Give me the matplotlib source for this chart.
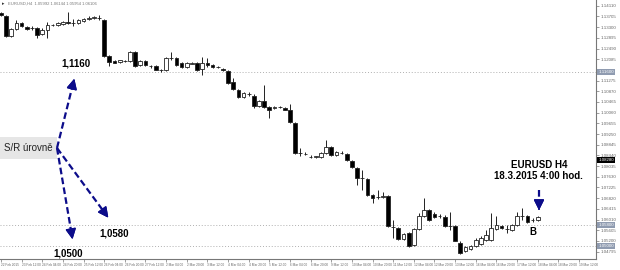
import matplotlib
matplotlib.use("Agg")
import matplotlib.pyplot as plt
from matplotlib.patches import Rectangle
from matplotlib.lines import Line2D

plt.rcParams['font.family'] = ['Liberation Sans', 'DejaVu Sans']

# EURUSD H4 svicky (odhad z obrazku)
opens = [1.13837, 1.13724, 1.12966, 1.13231, 1.13458, 1.13307, 1.13269, 1.13269, 1.13041, 1.13193,
         1.13383, 1.13383, 1.13420, 1.13496, 1.13458, 1.13458, 1.13534, 1.13610, 1.13629, 1.13648,
         1.13572, 1.12208, 1.12018, 1.11980, 1.12018, 1.12018, 1.12359, 1.11867, 1.12018, 1.11829,
         1.11829, 1.11677, 1.11677, 1.12132, 1.12132, 1.11942, 1.11791, 1.11923, 1.11942, 1.11715,
         1.11942, 1.11867, 1.11791, 1.11715, 1.11639, 1.11222, 1.10919, 1.10654, 1.10767, 1.10692,
         1.10313, 1.10502, 1.10275, 1.10237, 1.10275, 1.10237, 1.10161, 1.09668, 1.08531, 1.08494,
         1.08380, 1.08380, 1.08380, 1.08531, 1.08759, 1.08456, 1.08531, 1.08494, 1.08228, 1.07963,
         1.07584, 1.07546, 1.06940, 1.06864, 1.06845, 1.06902, 1.05727, 1.05689, 1.05272, 1.05499,
         1.05045, 1.05651, 1.06144, 1.06371, 1.06219, 1.06144, 1.06106, 1.05765, 1.05765, 1.05120,
         1.04817, 1.04893, 1.05007, 1.05082, 1.05234, 1.05234, 1.05651, 1.05765, 1.05651, 1.05613,
         1.05802, 1.06144, 1.06144, 1.05992, 1.05992]
highs = [1.13875, 1.13762, 1.13269, 1.13572, 1.13496, 1.13345, 1.13345, 1.13307, 1.13269, 1.13496,
         1.13420, 1.13496, 1.13534, 1.13875, 1.13610, 1.13610, 1.13648, 1.13724, 1.13724, 1.13762,
         1.13610, 1.12246, 1.12056, 1.12070, 1.12056, 1.12397, 1.12397, 1.12056, 1.12056, 1.11867,
         1.11867, 1.11715, 1.12170, 1.12359, 1.12170, 1.11980, 1.11980, 1.11980, 1.11980, 1.12170,
         1.12132, 1.11904, 1.11829, 1.11753, 1.11677, 1.11374, 1.10957, 1.10830, 1.10843, 1.10767,
         1.10540, 1.11108, 1.10313, 1.10313, 1.10313, 1.10275, 1.10388, 1.09706, 1.08721, 1.08569,
         1.08456, 1.08418, 1.08569, 1.09024, 1.08797, 1.08607, 1.08607, 1.08531, 1.08266, 1.08001,
         1.07887, 1.07584, 1.06977, 1.07129, 1.07053, 1.06940, 1.05992, 1.05727, 1.05499, 1.05537,
         1.05689, 1.06257, 1.06826, 1.06409, 1.06295, 1.06219, 1.06182, 1.06295, 1.05802, 1.05196,
         1.05007, 1.05045, 1.05310, 1.05386, 1.05613, 1.06257, 1.06144, 1.05802, 1.05802, 1.05840,
         1.06295, 1.06447, 1.06182, 1.06068, 1.06144]
lows = [1.13724, 1.12928, 1.12928, 1.13193, 1.13307, 1.13193, 1.13193, 1.12890, 1.13003, 1.12890,
        1.13345, 1.13345, 1.13383, 1.13420, 1.13345, 1.13420, 1.13496, 1.13572, 1.13610, 1.13572,
        1.12170, 1.11829, 1.11942, 1.11942, 1.11980, 1.11980, 1.11791, 1.11829, 1.11829, 1.11753,
        1.11677, 1.11601, 1.11639, 1.12056, 1.11829, 1.11753, 1.11753, 1.11904, 1.11639, 1.11488,
        1.11791, 1.11753, 1.11753, 1.11639, 1.11146, 1.10919, 1.10616, 1.10616, 1.10692, 1.10237,
        1.10275, 1.10237, 1.09858, 1.10199, 1.10237, 1.10161, 1.09668, 1.08494, 1.08418, 1.08456,
        1.08342, 1.08342, 1.08342, 1.08494, 1.08418, 1.08418, 1.08494, 1.08228, 1.07963, 1.07319,
        1.07129, 1.06902, 1.06637, 1.06788, 1.06826, 1.05727, 1.05310, 1.05234, 1.05234, 1.04969,
        1.05007, 1.05613, 1.06106, 1.05954, 1.06068, 1.06068, 1.05727, 1.05613, 1.05180, 1.04703,
        1.04779, 1.04855, 1.04969, 1.05045, 1.05196, 1.05196, 1.05613, 1.05651, 1.05499, 1.05575,
        1.05765, 1.05992, 1.05878, 1.05916, 1.05954]
closes = [1.13762, 1.12966, 1.13231, 1.13458, 1.13345, 1.13231, 1.13262, 1.13003, 1.13193, 1.13383,
          1.13376, 1.13458, 1.13496, 1.13458, 1.13452, 1.13572, 1.13610, 1.13648, 1.13667, 1.13642,
          1.12208, 1.11980, 1.11950, 1.12040, 1.12012, 1.12359, 1.11829, 1.12018, 1.11867, 1.11822,
          1.11690, 1.11670, 1.12132, 1.12126, 1.11867, 1.11791, 1.11942, 1.11961, 1.11677, 1.11942,
          1.11867, 1.11791, 1.11785, 1.11677, 1.11184, 1.10957, 1.10654, 1.10805, 1.10760, 1.10313,
          1.10502, 1.10275, 1.10161, 1.10275, 1.10268, 1.10170, 1.09706, 1.08531, 1.08524, 1.08487,
          1.08373, 1.08405, 1.08531, 1.08759, 1.08456, 1.08569, 1.08525, 1.08266, 1.08001, 1.07584,
          1.07578, 1.06940, 1.06826, 1.06858, 1.06883, 1.05765, 1.05720, 1.05272, 1.05461, 1.05007,
          1.05651, 1.06144, 1.06371, 1.05992, 1.06106, 1.06137, 1.05765, 1.05758, 1.05196, 1.04741,
          1.04969, 1.05007, 1.05234, 1.05310, 1.05423, 1.05689, 1.05802, 1.05689, 1.05644, 1.05802,
          1.06144, 1.06137, 1.05916, 1.05985, 1.06106]

sr_levels = [1.1160, 1.0580, 1.0500]
sr_labels = ["1.11600", "1.05800", "1.05000"]
marker_level = 1.08280

price_ticks = [1.14110, 1.13705, 1.13300, 1.12895, 1.12490, 1.12085, 1.11275, 1.10870,
               1.10465, 1.10060, 1.09655, 1.09250, 1.08845, 1.08440, 1.08035, 1.07630,
               1.07225, 1.06820, 1.06415, 1.06010, 1.05605, 1.05200, 1.04795]

time_labels = ["22 Feb 2015", "23 Feb 12:00", "24 Feb 04:00", "24 Feb 20:00", "25 Feb 12:00",
               "26 Feb 04:00", "26 Feb 20:00", "27 Feb 12:00", "2 Mar 04:00", "2 Mar 20:00",
               "3 Mar 12:00", "4 Mar 04:00", "4 Mar 20:00", "5 Mar 12:00", "6 Mar 04:00",
               "6 Mar 20:00", "9 Mar 12:00", "10 Mar 04:00", "10 Mar 20:00", "11 Mar 12:00",
               "12 Mar 04:00", "12 Mar 20:00", "13 Mar 12:00", "16 Mar 04:00", "16 Mar 20:00",
               "17 Mar 12:00", "18 Mar 04:00", "18 Mar 20:00", "19 Mar 12:00"]

W, H = 620, 270
navy = "#0c0c8a"


def px(x, y):
    # pixel -> figure fraction
    return (x / W, 1 - y / H)


fig = plt.figure(figsize=(6.2, 2.7), dpi=100)
ax = fig.add_axes([0, 11 / H, 596 / W, 259 / H])
ax.set_xlim(-0.19, 115.3)
ax.set_ylim(1.04514, 1.14330)

for lvl in sr_levels:
    ax.axhline(lvl, color="#b0b0b0", lw=0.7, ls=(0, (1, 2)), zorder=1)

for i in range(len(opens)):
    o, h, l, c = opens[i], highs[i], lows[i], closes[i]
    ax.vlines(i, l, h, color="#222222", lw=0.7, zorder=2)
    bear = c < o
    ax.add_patch(Rectangle((i - 0.36, min(o, c)), 0.72, max(abs(c - o), 0.00005),
                           facecolor="black" if bear else "white",
                           edgecolor="#222222", lw=0.6, zorder=3))

for s in ["top", "left"]:
    ax.spines[s].set_visible(False)
for s in ["right", "bottom"]:
    ax.spines[s].set_color("#777777")
    ax.spines[s].set_linewidth(0.8)

ax.yaxis.tick_right()
ax.set_yticks(price_ticks)
ax.set_yticklabels([f"{p:.5f}" for p in price_ticks])
ax.tick_params(axis="y", labelsize=3.2, labelcolor="#666666", color="#777777",
               length=2, width=0.5, pad=1.5)

ax.set_xticks([4 * k for k in range(len(time_labels))])
ax.set_xticklabels(time_labels)
ax.tick_params(axis="x", labelsize=2.3, labelcolor="#666666", color="#777777",
               length=2, width=0.5, pad=1)
for t in ax.get_xticklabels():
    t.set_ha("left")

for lvl, lab in zip(sr_levels, sr_labels):
    ax.text(1.004, lvl, lab, transform=ax.get_yaxis_transform(), fontsize=3.2,
            color="white", va="center", ha="left", clip_on=False, zorder=5,
            bbox=dict(boxstyle="square,pad=0.25", fc="#8f9bb0", ec="none"))
ax.text(1.004, marker_level, f"{marker_level:.5f}", transform=ax.get_yaxis_transform(),
        fontsize=3.2, color="white", va="center", ha="left", clip_on=False, zorder=5,
        bbox=dict(boxstyle="square,pad=0.25", fc="black", ec="none"))

# hlavicka
fig.text(*px(8, 4), "EURUSD,H4  1.05992 1.06144 1.05954 1.06106", fontsize=3,
         color="#777777", va="center", ha="left")
fig.text(*px(2, 4), "\u25b8", fontsize=3.5, color="#333333", va="center", ha="left")

# popisky
fig.patches.append(Rectangle(px(0, 159), 57 / W, 22 / H, transform=fig.transFigure,
                             facecolor="#e6e6e6", edgecolor="none"))
fig.text(*px(28, 148), "S/R úrovně", fontsize=7, color="#222222", ha="center", va="center")
fig.text(*px(76, 64), "1,1160", fontsize=7, fontweight="bold", ha="center", va="center")
fig.text(*px(114, 233), "1,0580", fontsize=7, fontweight="bold", ha="center", va="center")
fig.text(*px(68, 254), "1,0500", fontsize=7, fontweight="bold", ha="center", va="center")
fig.text(*px(539, 165), "EURUSD H4", fontsize=7, fontweight="bold", ha="center", va="center")
fig.text(*px(538, 176), "18.3.2015 4:00 hod.", fontsize=7, fontweight="bold",
         ha="center", va="center")
fig.text(*px(533, 232), "B", fontsize=7, fontweight="bold", ha="center", va="center")


def arrow(x0, y0, x1, y1):
    dx, dy = x1 - x0, y1 - y0
    n = (dx ** 2 + dy ** 2) ** 0.5
    ux, uy = dx / n, dy / n
    sx, sy = x1 - ux * 6, y1 - uy * 6
    fig.add_artist(Line2D([x0 / W, sx / W], [1 - y0 / H, 1 - sy / H],
                          transform=fig.transFigure, color=navy, lw=1.6,
                          ls=(0, (3, 1.5))))
    fig.add_artist(plt.annotate("", xy=px(x1, y1), xytext=px(x1 - ux * 8, y1 - uy * 8),
                                xycoords="figure fraction", textcoords="figure fraction",
                                arrowprops=dict(arrowstyle="-|>,head_length=0.7,head_width=0.35",
                                                color=navy, lw=1, mutation_scale=9)))


arrow(57, 148, 75, 76)
arrow(57, 148, 110, 220)
arrow(57, 148, 73, 242)
arrow(539, 190, 539, 213)

fig.savefig("out.png", dpi=100)
